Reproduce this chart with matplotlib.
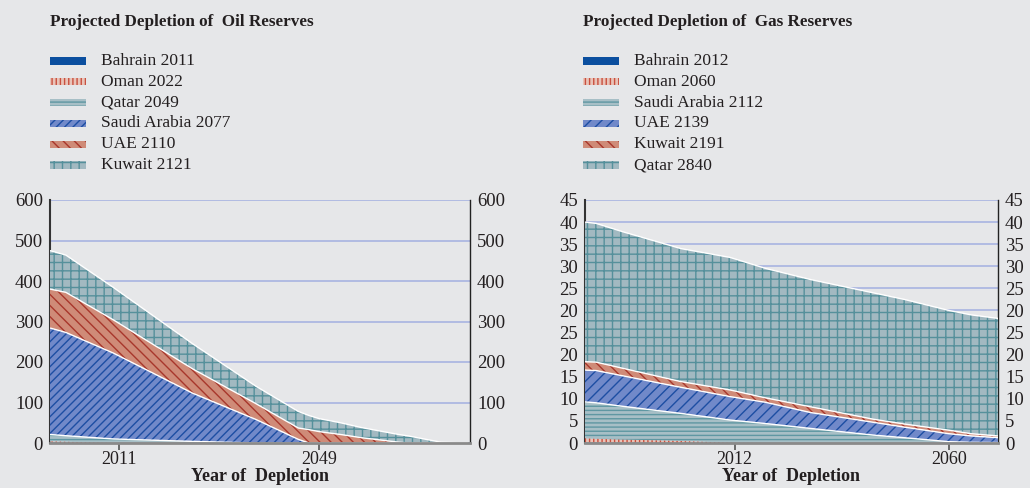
import numpy as np
import matplotlib
matplotlib.use("Agg")
import matplotlib.pyplot as plt
from matplotlib.patches import Rectangle

plt.rcParams["font.family"] = ["Liberation Serif", "DejaVu Serif"]
plt.rcParams["hatch.linewidth"] = 1.0

# --- oil (billion barrels, stacked bottom -> top)
oil_years = [1998, 2001, 2010, 2025, 2037, 2045, 2047, 2049, 2053, 2057, 2064, 2066, 2072, 2077]
oil_bahrain = [1, 0.5, 0, 0, 0, 0, 0, 0, 0, 0, 0, 0, 0, 0]
oil_oman = [3, 2.5, 0, 0, 0, 0, 0, 0, 0, 0, 0, 0, 0, 0]
oil_qatar = [17, 15, 10, 4, 0, 0, 0, 0, 0, 0, 0, 0, 0, 0]
oil_saudi = [263, 255, 212, 119, 58, 9, 0, 0, 0, 0, 0, 0, 0, 0]
oil_uae = [96, 99, 82, 60, 39, 28, 33, 28, 21, 13, 2, 0, 0, 0]
oil_kuwait = [95, 92, 80, 62, 43, 41, 35, 32, 29, 25, 19, 17, 2, 0]
oil_labels = ["Bahrain 2011", "Oman 2022", "Qatar 2049",
              "Saudi Arabia 2077", "UAE 2110", "Kuwait 2121"]
oil_xticks = [2011, 2049]
oil_yticks = [0, 100, 200, 300, 400, 500, 600]

# --- gas (axis positions 0..55, labelled with the printed tick texts)
gas_years = [1978.5, 1981, 1987, 2000, 2011, 2019, 2029, 2043, 2050, 2060, 2065, 2071]
gas_bahrain = [0.1, 0.1, 0.05, 0.02, 0, 0, 0, 0, 0, 0, 0, 0]
gas_oman = [0.95, 0.85, 0.75, 0.43, 0.05, 0, 0, 0, 0, 0, 0, 0]
gas_saudi = [8.25, 8.15, 7.5, 6.25, 5.15, 4.4, 3.3, 1.8, 1.2, 0.3, 0.15, 0.1]
gas_uae = [7.2, 7.3, 6.9, 5.9, 5.3, 4.8, 3.6, 2.9, 2.4, 1.8, 1.45, 1.1]
gas_kuwait = [1.9, 1.9, 1.7, 1.3, 1.5, 1.0, 1.3, 0.7, 0.7, 0.8, 0.5, 0.4]
gas_qatar = [31.6, 31.4, 30.9, 30.1, 30.0, 29.3, 28.8, 28.6, 28.2, 27.1, 26.9, 26.6]
gas_labels = ["Bahrain 2012", "Oman 2060", "Saudi Arabia 2112",
              "UAE 2139", "Kuwait 2191", "Qatar 2840"]
gas_xticks = [2012, 2060]
gas_yticks = [0, 5, 10, 15, 20, 25, 30, 35, 40, 45, 50, 55]
gas_yticklabels = ["0", "5", "10", "15", "20", "25", "20", "25", "30", "35", "40", "45"]

BG = "#e6e7e9"
TEXT = "#231f20"
GRID = "#a3afe0"

# fill, hatch colour, hatch (oil / gas) for each stack position
styles = [
    ("#0b4f9f", "#0b4f9f", None, None),
    ("#e9c3b8", "#c8503f", "||||", "||||"),
    ("#a7bfc6", "#5f97a2", "----", "----"),
    ("#7189c9", "#1d4ea3", "////", "///"),
    ("#cf8b78", "#a8372c", "\\\\\\", "\\\\\\"),
    ("#a2b9c1", "#55909b", "++", "++"),
]


def draw_panel(ax, years, layers, xticks, xlim, ylim, yticks, yticklabels, is_oil):
    ax.set_facecolor(BG)
    lower = np.zeros(len(years))
    for i, vals in enumerate(layers):
        upper = lower + np.asarray(vals, dtype=float)
        face, hcol, h_oil, h_gas = styles[i]
        hatch = h_oil if is_oil else h_gas
        ax.fill_between(years, lower, upper, facecolor=face, linewidth=0, zorder=3)
        if hatch:
            ax.fill_between(years, lower, upper, facecolor="none", edgecolor=hcol,
                            hatch=hatch, linewidth=0, zorder=3.1)
        if i >= 2:
            ax.plot(years, upper, color="white", lw=1.0, zorder=3.2)
        lower = upper
    ax.set_xlim(*xlim)
    ax.set_ylim(*ylim)
    ax.set_yticks(yticks)
    ax.set_yticklabels(yticklabels)
    ax.set_xticks(xticks)
    ax.set_xticklabels([str(t) for t in xticks])
    ax.yaxis.grid(True, color=GRID, lw=1.1)
    ax.set_axisbelow(True)
    ax.tick_params(axis="y", length=0, labelsize=13.5, labelcolor=TEXT,
                   labelleft=True, labelright=True, pad=5)
    ax.tick_params(axis="x", direction="out", length=5, width=1.2, color="#555555",
                   labelsize=13, labelcolor=TEXT, pad=1)
    ax.spines["top"].set_visible(False)
    ax.spines["left"].set_color("#333333")
    ax.spines["left"].set_linewidth(1.5)
    ax.spines["left"].set_zorder(2)
    ax.spines["right"].set_color("#222222")
    ax.spines["right"].set_linewidth(1.0)
    ax.spines["bottom"].set_color("#8a8a8a")
    ax.spines["bottom"].set_linewidth(2.0)
    ax.spines["bottom"].set_zorder(4)
    ax.set_xlabel("Year of  Depletion", fontsize=13, fontweight="bold", color=TEXT, labelpad=0)


def draw_legend(fig, x0_px, title, labels, is_oil):
    W, H = 1030, 488
    fig.text(x0_px / W, 1 - 22 / H, title, fontsize=12.3, fontweight="bold",
             color=TEXT, ha="left", va="center")
    for i, lab in enumerate(labels):
        yc = 61 + i * 20.8
        face, hcol, h_oil, h_gas = styles[i]
        hatch = h_oil if is_oil else h_gas
        rect = Rectangle((x0_px / W, 1 - (yc + 3.5) / H), 36 / W, 7 / H,
                         transform=fig.transFigure, facecolor=face,
                         edgecolor=hcol if hatch else face, hatch=hatch, linewidth=0)
        fig.patches.append(rect)
        fig.text((x0_px + 51) / W, 1 - yc / H, lab, fontsize=12.5, color=TEXT,
                 ha="left", va="center")


fig = plt.figure(figsize=(10.3, 4.88), dpi=100)
fig.patch.set_facecolor(BG)

ax_oil = fig.add_axes([50 / 1030, 45 / 488, 420 / 1030, 243 / 488])
ax_gas = fig.add_axes([585 / 1030, 45 / 488, 413 / 1030, 243 / 488])

draw_panel(ax_oil, oil_years,
           [oil_bahrain, oil_oman, oil_qatar, oil_saudi, oil_uae, oil_kuwait],
           oil_xticks, (1998, 2077.5), (0, 600), oil_yticks,
           [str(v) for v in oil_yticks], True)
draw_panel(ax_gas, gas_years,
           [gas_bahrain, gas_oman, gas_saudi, gas_uae, gas_kuwait, gas_qatar],
           gas_xticks, (1978.5, 2071), (0, 55), gas_yticks, gas_yticklabels, False)

draw_legend(fig, 50, "Projected Depletion of  Oil Reserves", oil_labels, True)
draw_legend(fig, 583, "Projected Depletion of  Gas Reserves", gas_labels, False)

fig.savefig("out.png", dpi=100, facecolor=BG)
